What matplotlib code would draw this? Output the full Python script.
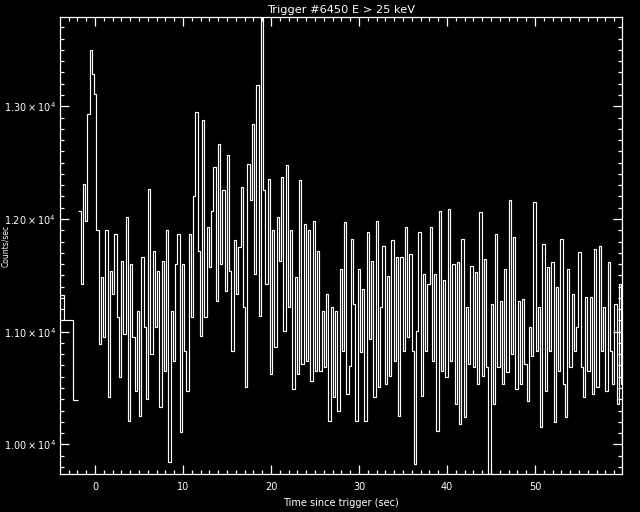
# BATSE style light curve, trigger 6450
import numpy as np
import matplotlib.pyplot as plt
from matplotlib.ticker import MultipleLocator, FuncFormatter

plt.rcParams['mathtext.default'] = 'regular'

# coarse pre-trigger bins (edges in sec) and rates
pre_edges = [-3.98, -3.49, -2.47, -1.90]
pre_rate = [11325, 11100, 10390]

# fine bins start at -1.90 s, 0.256 s wide
t_start = -1.90
dt = 0.256
rate = [
    12075, 11424, 12312, 11986, 12934, 13496, 13289, 13111, 11898, 10891,
    11483, 10950, 11898, 10418, 11542, 11335, 11868, 11128, 10595, 11631,
    10980, 12016, 10210, 11602, 10950, 10477, 11187, 10255, 11661, 11039,
    10403, 12268, 10802, 11720, 11039, 11542, 10329, 11631, 10654, 11898,
    9840, 11187, 10743, 11602, 11868, 10107, 11602, 10832, 10477, 11868,
    11128, 12208, 12948, 11720, 10965, 12874, 11128, 11927, 11572, 12075,
    12460, 11276, 12667, 11602, 12253, 11365, 12564, 11542, 10832, 11809,
    11335, 11750, 12282, 11217, 10506, 12490, 12164, 12845, 11513, 13185,
    11143, 13792, 12253, 11424, 12356, 10625, 11898, 10862, 12016, 11631,
    12371, 11010, 12475, 11217, 11898, 10492, 11483, 10625, 12342, 10714,
    11957, 10743, 11898, 10566, 11986, 10654, 11720, 10654, 11187, 10684,
    11335, 10210, 11217, 10418, 11187, 10299, 11557, 10832, 11972, 10447,
    10699, 11824, 11246, 10210, 11557, 10817, 11380, 10210, 11883, 10936,
    11631, 10418, 11986, 10506, 11217, 11764, 10536, 11498, 10610, 11809,
    10743, 11661, 10255, 11661, 10832, 11927, 10950, 11690, 10832, 9826,
    11010, 11883, 10432, 11513, 10832, 11424, 11927, 10743, 11513, 10122,
    12075, 10654, 11454, 10595, 12090, 10743, 11602, 10358, 11616, 10181,
    11824, 10240, 11217, 10714, 11587, 10684, 11528, 10536, 12060, 10610,
    11646, 10684, 9737, 11246, 10358, 11868, 10684, 11276, 10536, 11557,
    10640, 12164, 10802, 11838, 10492, 11276, 10536, 11291, 10714, 10388,
    11039, 10788, 12149, 10832, 11217, 10151, 11779, 10477, 11572, 10832,
    11616, 10196, 11394, 10654, 11824, 10536, 10240, 11557, 10684, 11335,
    10832, 11039, 11705, 10684, 10418, 11306, 10654, 11306, 10447, 11735,
    10506, 11764, 10832, 11217, 10477, 11616, 10832, 10536, 11246, 10358,
    11424, 10536,
]

edges = t_start + dt * np.arange(len(rate) + 1)
all_rate = pre_rate + rate

fig = plt.figure(figsize=(6.4, 5.12), dpi=100, facecolor='black')
ax = fig.add_axes([0.09375, 0.0742, 0.8786, 0.8926], facecolor='black')

ax.stairs(pre_rate, pre_edges, baseline=None, color='white', lw=0.85)
ax.stairs(rate, edges, baseline=None, color='white', lw=0.85)

ax.set_xlim(-3.98, 59.92)
ax.set_ylim(min(all_rate), max(all_rate))

# axes, ticks, labels in white
for s in ax.spines.values():
    s.set_color('white')
    s.set_linewidth(0.9)
ax.xaxis.set_major_locator(MultipleLocator(10))
ax.xaxis.set_minor_locator(MultipleLocator(1))
ax.yaxis.set_major_locator(MultipleLocator(1000))
ax.yaxis.set_minor_locator(MultipleLocator(100))
ax.yaxis.set_major_formatter(FuncFormatter(
    lambda v, p: r'$%.2f\times10^{4}$' % (v / 1e4)))
ax.tick_params(which='both', direction='in', top=True, right=True,
               colors='white', width=0.9, labelsize=7)
ax.tick_params(which='major', length=6.5)
ax.tick_params(which='minor', length=3)
ax.tick_params(axis='x', pad=6)
ax.tick_params(axis='y', pad=3)

ax.set_title('Trigger #6450 E > 25 keV', color='white', fontsize=8.2, pad=3)
ax.set_xlabel('Time since trigger (sec)', color='white', fontsize=7, labelpad=4)
ax.set_ylabel('Counts/sec', color='white', fontsize=5.5)
ax.yaxis.set_label_coords(-0.088, 0.5)

fig.savefig('out.png', dpi=100, facecolor='black')
